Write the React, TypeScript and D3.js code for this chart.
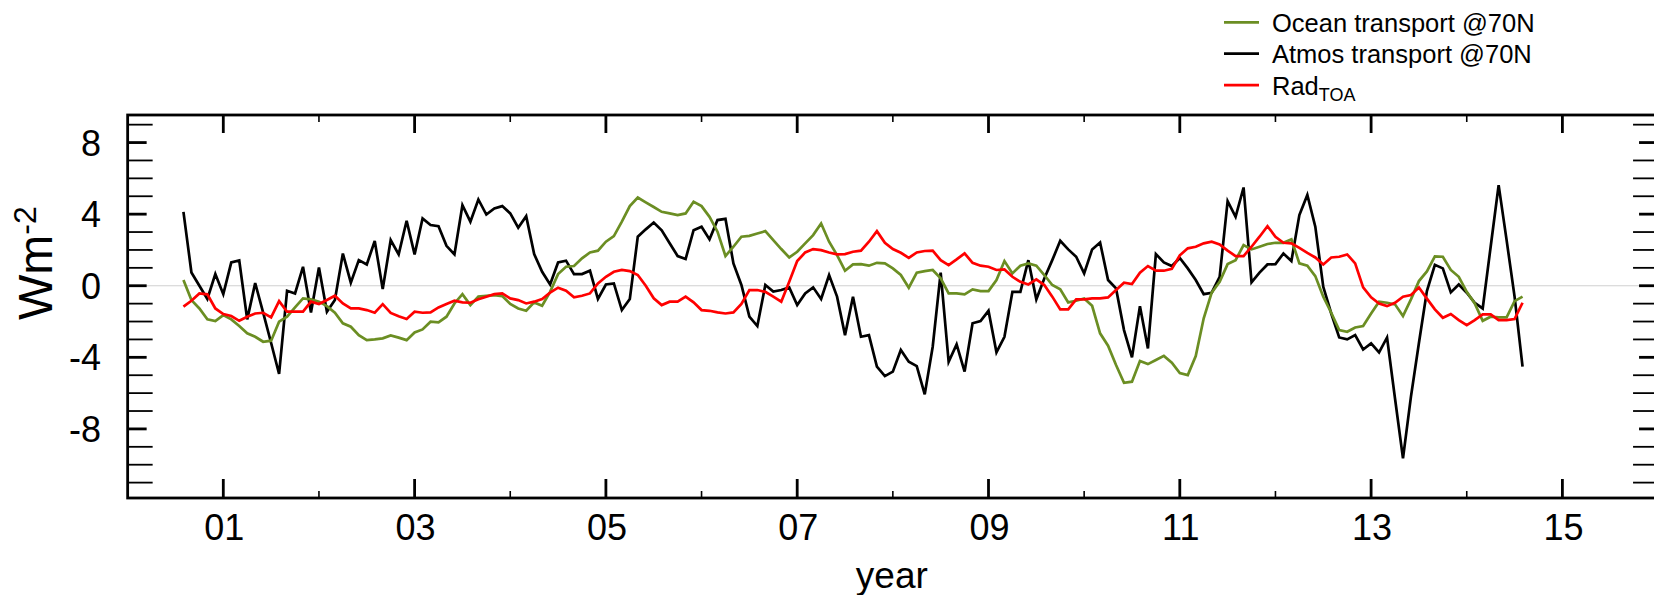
import React from "react";
import * as d3 from "d3";

// Monthly values, first point at year 2000 + 7/12
const startYear = 7 / 12;

const atmos = [
  4.13, 0.74, 0.0, -0.74, 0.65, -0.47, 1.3, 1.41, -1.88, 0.15, -1.5, -3.2, -4.93, -0.28, -0.43, 1.06, -1.49, 1.02, -1.45, -0.8,
  1.8, 0.17, 1.43, 1.19, 2.5, -0.19, 2.55, 1.75, 3.63, 1.75, 3.76, 3.39, 3.33, 2.23, 1.75, 4.5, 3.58, 4.82, 3.98, 4.32,
  4.45, 4.04, 3.24, 3.89, 1.77, 0.78, 0.07, 1.3, 1.4, 0.65, 0.65, 0.84, -0.74, 0.07, 0.13, -1.36, -0.74, 2.74, 3.15, 3.53,
  3.1, 2.37, 1.66, 1.49, 3.1, 3.3, 2.59, 3.67, 3.74, 1.25, 0.04, -1.73, -2.25, 0.04, -0.33, -0.24, -0.09, -1.08, -0.43, -0.09,
  -0.74, 0.6, -0.61, -2.76, -0.61, -2.85, -2.76, -4.52, -5.05, -4.8, -3.59, -4.25, -4.49, -6.07, -3.41, 0.73, -4.25, -3.28, -4.8, -2.1,
  -1.97, -1.4, -3.72, -2.85, -0.34, -0.34, 1.43, -0.76, 0.41, 1.43, 2.51, 2.03, 1.62, 0.69, 2.03, 2.42, 0.32, -0.15, -2.48, -4.0,
  -1.14, -3.5, 1.77, 1.3, 1.1, 1.55, 0.97, 0.32, -0.47, -0.39, 0.5, 4.73, 3.85, 5.49, 0.19, 0.73, 1.19, 1.21, 1.8, 1.38,
  3.95, 5.07, 3.3, -0.06, -1.55, -2.89, -3.0, -2.76, -3.56, -3.22, -3.72, -2.89, -6.3, -9.65, -6.2, -3.2, -0.3, 1.17, 0.97, -0.37,
  0.07, -0.39, -0.95, -1.27, 2.18, 5.62, 2.55, -0.61, -4.52,
];

const ocean = [
  0.32, -0.8, -1.27, -1.88, -1.97, -1.64, -1.88, -2.25, -2.66, -2.85, -3.13, -3.07, -2.01, -1.73, -1.21, -0.71, -0.76, -0.89, -1.14, -1.51,
  -2.1, -2.29, -2.76, -3.04, -3.0, -2.94, -2.78, -2.9, -3.04, -2.61, -2.44, -2.01, -2.05, -1.73, -0.99, -0.47, -1.08, -0.61, -0.56, -0.52,
  -0.58, -1.02, -1.27, -1.4, -0.93, -1.12, -0.34, 0.65, 1.06, 1.1, 1.53, 1.86, 1.96, 2.46, 2.77, 3.58, 4.45, 4.93, 4.66, 4.4,
  4.13, 4.04, 3.95, 4.04, 4.69, 4.45, 3.85, 3.02, 1.66, 2.18, 2.74, 2.79, 2.92, 3.05, 2.55, 2.05, 1.58, 1.9, 2.37, 2.83,
  3.48, 2.46, 1.71, 0.84, 1.19, 1.21, 1.12, 1.28, 1.25, 0.97, 0.6, -0.11, 0.73, 0.82, 0.88, 0.41, -0.43, -0.43, -0.48, -0.2,
  -0.3, -0.3, 0.32, 1.38, 0.69, 1.12, 1.25, 1.12, 0.6, 0.04, -0.2, -0.93, -0.84, -0.71, -1.12, -2.66, -3.35, -4.43, -5.42, -5.36,
  -4.21, -4.38, -4.15, -3.92, -4.3, -4.88, -4.99, -3.93, -1.82, -0.39, 0.22, 1.21, 1.43, 2.27, 2.03, 2.18, 2.33, 2.4, 2.4, 2.59,
  1.25, 1.12, 0.54, -0.61, -1.51, -2.48, -2.57, -2.33, -2.25, -1.55, -0.89, -0.95, -1.04, -1.69, -0.76, 0.26, 0.8, 1.64, 1.62, 0.88,
  0.5, -0.34, -0.99, -1.96, -1.73, -1.77, -1.77, -0.86, -0.61,
];

const radToa = [
  -1.17, -0.84, -0.43, -0.48, -1.27, -1.58, -1.69, -1.96, -1.73, -1.55, -1.51, -1.77, -0.86, -1.45, -1.45, -1.45, -0.89, -1.02, -0.8, -0.56,
  -0.99, -1.27, -1.27, -1.36, -1.51, -1.03, -1.52, -1.71, -1.86, -1.45, -1.51, -1.49, -1.21, -1.02, -0.84, -0.93, -0.95, -0.76, -0.61, -0.47,
  -0.43, -0.71, -0.8, -0.99, -0.89, -0.74, -0.39, -0.11, -0.28, -0.65, -0.56, -0.43, 0.13, 0.5, 0.78, 0.88, 0.82, 0.6, 0.0, -0.7,
  -1.08, -0.89, -0.89, -0.61, -0.93, -1.36, -1.4, -1.49, -1.55, -1.49, -1.02, -0.24, -0.24, -0.34, -0.61, -0.89, 0.22, 1.38, 1.86, 2.05,
  1.99, 1.86, 1.75, 1.77, 1.9, 1.96, 2.46, 3.05, 2.4, 2.05, 1.84, 1.56, 1.86, 1.94, 1.96, 1.43, 1.15, 1.47, 1.81, 1.28,
  1.12, 1.06, 0.88, 0.91, 0.5, 0.22, 0.07, 0.35, 0.04, -0.61, -1.32, -1.32, -0.76, -0.76, -0.71, -0.71, -0.65, -0.24, 0.17, 0.09,
  0.73, 1.1, 0.84, 0.84, 0.94, 1.7, 2.09, 2.18, 2.37, 2.46, 2.31, 1.96, 1.66, 1.66, 2.18, 2.74, 3.33, 2.74, 2.4, 2.37,
  2.12, 1.84, 1.58, 1.19, 1.58, 1.62, 1.75, 1.25, -0.09, -0.65, -0.99, -1.14, -0.95, -0.61, -0.52, -0.1, -0.72, -1.32, -1.79, -1.58,
  -1.92, -2.2, -1.92, -1.6, -1.6, -1.92, -1.92, -1.86, -0.95,
];

const xMajorTicks = [1, 3, 5, 7, 9, 11, 13, 15];
const xMinorTicks = [2, 4, 6, 8, 10, 12, 14];
const yMajorTicks = [-8, -4, 0, 4, 8];
const yMinorTicks = [-11, -10, -9, -7, -6, -5, -3, -2, -1, 1, 2, 3, 5, 6, 7, 9];

const seriesList = [
  { name: "Ocean transport @70N", values: ocean, color: "#6b8e23" },
  { name: "Atmos transport @70N", values: atmos, color: "#000000" },
  { name: "Rad", sub: "TOA", values: radToa, color: "#ff0000" },
];

const FONT = "'Liberation Sans', Arial, Helvetica, sans-serif";

export default function App() {
  const W = 1654;
  const H = 595;
  const left = 127.65;
  const right = 1658.05;
  const top = 115;
  const bottom = 498;

  const x = d3.scaleLinear().domain([0, 16]).range([left, right]);
  const y = d3.scaleLinear().domain([-11.86, 9.54]).range([bottom, top]);

  const line = d3
    .line<number>()
    .x((_, i) => x(startYear + i / 12))
    .y((d) => y(d));

  const fmt = d3.format("02d");

  return (
    <svg
      width={W}
      height={H}
      style={{ position: "absolute", left: 0, top: 0, background: "#fff" }}
      fontFamily={FONT}
    >
      <rect x={0} y={0} width={W} height={H} fill="#fff" />
      {/* zero line */}
      <line x1={left} x2={right} y1={y(0)} y2={y(0)} stroke="#d0d0d0" strokeWidth={1.2} />

      {/* data lines */}
      {[seriesList[1], seriesList[0], seriesList[2]].map((s) => (
        <path
          key={s.name}
          d={line(s.values) || ""}
          fill="none"
          stroke={s.color}
          strokeWidth={2.7}
          strokeLinejoin="miter"
          strokeMiterlimit={4}
        />
      ))}

      {/* y ticks left & right */}
      {yMinorTicks.map((t) => (
        <g key={"ym" + t}>
          <line x1={left} x2={left + 25} y1={y(t)} y2={y(t)} stroke="#000" strokeWidth={1.8} />
          <line x1={right - 25} x2={right} y1={y(t)} y2={y(t)} stroke="#000" strokeWidth={1.8} />
        </g>
      ))}
      {yMajorTicks.map((t) => (
        <g key={"yM" + t}>
          <line x1={left} x2={left + 19} y1={y(t)} y2={y(t)} stroke="#000" strokeWidth={2.8} />
          <line x1={right - 19} x2={right} y1={y(t)} y2={y(t)} stroke="#000" strokeWidth={2.8} />
          <text x={101} y={y(t) + 13} fontSize={36} textAnchor="end" fill="#000">
            {t}
          </text>
        </g>
      ))}

      {/* x ticks top & bottom */}
      {xMajorTicks.map((t) => (
        <g key={"xM" + t}>
          <line x1={x(t)} x2={x(t)} y1={top} y2={top + 18} stroke="#000" strokeWidth={2.8} />
          <line x1={x(t)} x2={x(t)} y1={bottom} y2={bottom - 19} stroke="#000" strokeWidth={2.8} />
          <text x={x(t) + 1} y={540} fontSize={36} textAnchor="middle" fill="#000">
            {fmt(t)}
          </text>
        </g>
      ))}
      {xMinorTicks.map((t) => (
        <g key={"xm" + t}>
          <line x1={x(t)} x2={x(t)} y1={top} y2={top + 7} stroke="#000" strokeWidth={1.6} />
          <line x1={x(t)} x2={x(t)} y1={bottom} y2={bottom - 7} stroke="#000" strokeWidth={1.6} />
        </g>
      ))}

      {/* frame */}
      <rect
        x={left}
        y={top}
        width={right - left}
        height={bottom - top}
        fill="none"
        stroke="#000"
        strokeWidth={2.8}
      />

      {/* axis titles */}
      <text x={(left + right) / 2 - 1} y={588} fontSize={37} textAnchor="middle" fill="#000">
        year
      </text>
      <text transform="translate(51.5,320) rotate(-90)" fontSize={48} fill="#000">
        Wm
        <tspan dy={-16} fontSize={32}>
          -2
        </tspan>
      </text>

      {/* legend */}
      {seriesList.map((s, i) => {
        const ly = 22.3 + i * 31.4;
        return (
          <g key={"lg" + s.name}>
            <line x1={1224} x2={1259} y1={ly} y2={ly} stroke={s.color} strokeWidth={2.8} />
            <text x={1272} y={ly + 9.4} fontSize={25.5} fill="#000">
              {s.name}
              {s.sub ? (
                <tspan dy={6} fontSize={18}>
                  {s.sub}
                </tspan>
              ) : null}
            </text>
          </g>
        );
      })}
    </svg>
  );
}
